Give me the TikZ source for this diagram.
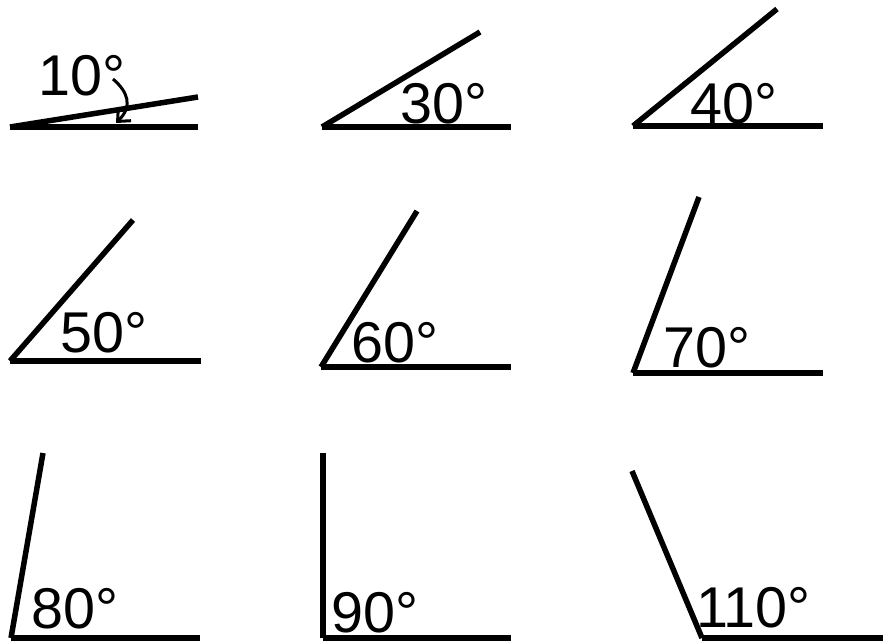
\documentclass[tikz,border=0pt]{standalone}
\usepackage{fontspec}
\setmainfont{Liberation Sans}
\usetikzlibrary{arrows.meta}
\tikzset{
  arm/.style={line width=5.5pt},
  curvearr/.style={line width=3pt,-{Straight Barb[length=10pt,width=18pt]}},
  deglab/.style={anchor=base west,inner sep=0pt,font=\fontsize{57.5}{60}\selectfont},
  every picture/.style={x=1pt,y=-1pt}
}
\begin{document}
\begin{tikzpicture}
  \useasboundingbox (0,0) rectangle (883,642);
  % angle / vertex / ray end / base end / label
  \foreach \a/\vx/\vy/\rx/\ry/\bx/\lx/\ly in {
      10/10/127/198/97/198/38/95,
      30/322/127/480/32/511/400/123,
      40/633/126/777/9/823/690/123,
      50/10/361/133/220/201/60/352,
      60/321/367/417/211/511/351/362,
      70/633/373/699/197/823/663/367,
      80/11/638/43/453/200/31/628,
      90/323/638/323/453/511/331/632,
      110/702/638/632/471/883/696/627}{
    \coordinate (v\a) at (\vx,\vy);
    \coordinate (r\a) at (\rx,\ry);
    \coordinate (b\a) at (\bx,\vy);
    \draw[arm] (v\a) -- (r\a);
    \draw[arm] (v\a) -- (b\a);
    \node[deglab] (l\a) at (\lx,\ly) {\a°};
  }
  % small arrow for the 10 degree angle
  \coordinate (a1) at (113,79);
  \coordinate (a2) at (116,123);
  \draw[curvearr] (a1) .. controls (128,92) and (133,106) .. (a2);
\end{tikzpicture}
\end{document}
